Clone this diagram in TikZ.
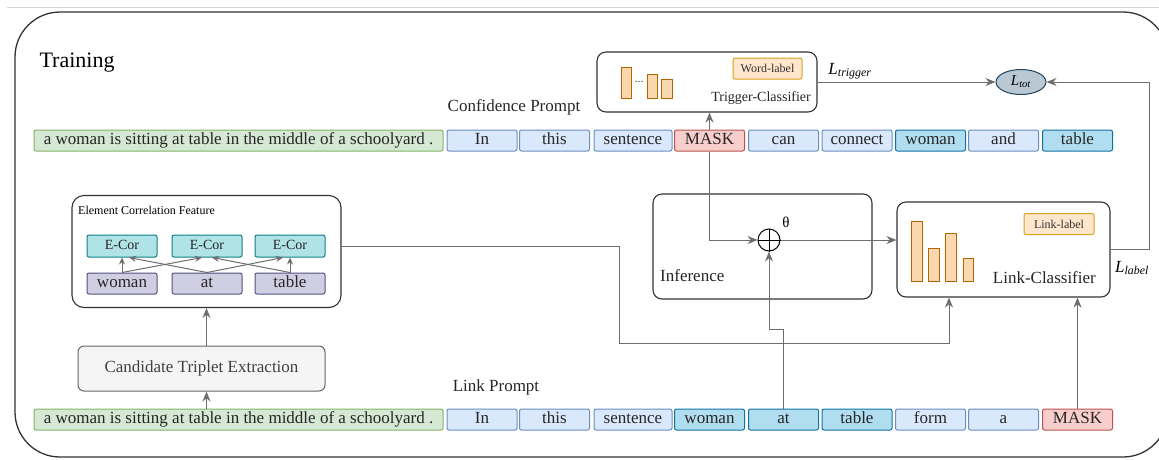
\documentclass[tikz,border=0pt]{standalone}
\usepackage{fontspec}
\setmainfont{Liberation Serif}
\usetikzlibrary{arrows.meta,shapes.geometric}

\definecolor{tokfill}{HTML}{DAE8FC}
\definecolor{tokdraw}{HTML}{6C8EBF}
\definecolor{hlfill}{HTML}{B1DDF0}
\definecolor{hldraw}{HTML}{10739E}
\definecolor{maskfill}{HTML}{F8CECC}
\definecolor{maskdraw}{HTML}{B85450}
\definecolor{sentfill}{HTML}{D5E8D4}
\definecolor{sentdraw}{HTML}{82B366}
\definecolor{ecorfill}{HTML}{B0E3E6}
\definecolor{ecordraw}{HTML}{0E8088}
\definecolor{wordfill}{HTML}{D0CEE2}
\definecolor{worddraw}{HTML}{56517E}
\definecolor{barfill}{HTML}{FAD7AC}
\definecolor{bardraw}{HTML}{B46504}
\definecolor{lblfill}{HTML}{FFE6CC}
\definecolor{lbldraw}{HTML}{D9A21B}
\definecolor{lossfill}{HTML}{BAC8D3}
\definecolor{lossdraw}{HTML}{23445D}
\definecolor{candfill}{HTML}{F5F5F5}
\definecolor{linegray}{HTML}{6E6E6E}

\tikzset{
  base/.style={draw, line width=1pt, rounded corners=2pt, inner sep=1pt,
    text height=11pt, text depth=3.5pt, text=black!85,
    font=\fontsize{17}{20}\selectfont},
  tok/.style={base, fill=tokfill, draw=tokdraw, minimum width=70pt, minimum height=21pt},
  tokw/.style={tok, minimum width=78pt},
  tokhl/.style={tok, fill=hlfill, draw=hldraw},
  tokmask/.style={tok, fill=maskfill, draw=maskdraw},
  sent/.style={base, fill=sentfill, draw=sentdraw, minimum width=409pt, minimum height=21pt},
  ecor/.style={base, fill=ecorfill, draw=ecordraw, minimum width=70pt, minimum height=22pt,
    font=\fontsize{14}{16}\selectfont},
  elem/.style={base, fill=wordfill, draw=worddraw, minimum width=70pt, minimum height=21pt},
  panel/.style={draw=black!80, line width=1.1pt, rounded corners=9pt, fill=white},
  lbl/.style={draw=lbldraw, fill=lblfill, line width=1pt, rounded corners=2pt,
    minimum height=21pt, inner sep=1pt, font=\fontsize{12}{14}\selectfont, text=black!80},
  bar/.style={draw=bardraw, fill=barfill, line width=1pt},
  plain/.style={font=\fontsize{17}{20}\selectfont, text=black!85, inner sep=1pt},
  arr/.style={draw=linegray, line width=1pt, -{Stealth[length=10pt,width=8pt]}},
  arrs/.style={arr, -{Stealth[length=7pt,width=6pt]}},
}

\begin{document}
\begin{tikzpicture}[x=1pt,y=-1pt]
  \useasboundingbox (0,0) rectangle (1159,459);
  \draw[black!15, line width=0.8pt] (7,7) -- (1159,7);
  % outer frame
  \draw[black!80, line width=1.3pt, rounded corners=45pt] (15,12) rectangle (1168,457);
  \node[anchor=west, font=\fontsize{22}{26}\selectfont] (title) at (36,63) {Training};

  % confidence prompt row
  \node[plain] (cplabel) at (514,107) {Confidence Prompt};
  \node[sent] (s1) at (238.5,140.5) {a woman is sitting at table in the middle of a schoolyard .};
  \foreach \w/\x/\s [count=\i] in {In/482/tok, this/554.5/tok, sentence/633/tokw,
      MASK/709.5/tokmask, can/783.5/tok, connect/857/tok, woman/930.5/tokhl,
      and/1003.5/tok, table/1077.5/tokhl}
    \node[\s] (c\i) at (\x,140.5) {\w};

  % link prompt row
  \node[plain] (lplabel) at (496,387) {Link Prompt};
  \node[sent] (s2) at (238.5,419.5) {a woman is sitting at table in the middle of a schoolyard .};
  \foreach \w/\x/\s [count=\i] in {In/482/tok, this/554.5/tok, sentence/633/tokw,
      woman/709.5/tokhl, at/783.5/tokhl, table/857/tokhl, form/930.5/tok,
      a/1003.5/tok, MASK/1077.5/tokmask}
    \node[\s] (l\i) at (\x,419.5) {\w};

  % trigger classifier
  \node[panel, minimum width=220pt, minimum height=60pt] (trig) at (707,82) {};
  \draw[bar] (621,67) rectangle (631,98);
  \draw[bar] (647,74) rectangle (657,98);
  \draw[bar] (661,79) rectangle (672,98);
  \node[font=\fontsize{12}{12}\selectfont, text=black!70, inner sep=0pt] (dots) at (639,82) {...};
  \node[lbl, minimum width=69pt] (wordlbl) at (767.5,68.5) {Word-label};
  \node[anchor=east, font=\fontsize{14}{16}\selectfont, text=black!85, inner sep=1pt] (trigtxt) at (812,98) {Trigger-Classifier};

  % total loss
  \node[ellipse, draw=lossdraw, fill=lossfill, line width=1pt, minimum width=50pt,
    minimum height=25pt, inner sep=0pt, font=\fontsize{15}{17}\selectfont] (ltot) at (1021,82)
    {\textit{L}\textsubscript{\textit{tot}}};
  \node[font=\fontsize{17}{20}\selectfont] (ltrig) at (850,71) {\textit{L}\textsubscript{\textit{trigger}}};

  % inference
  \node[panel, minimum width=219pt, minimum height=105pt] (infer) at (762.5,246.5) {};
  \node[plain, anchor=west] (infertxt) at (659,276) {Inference};
  \node[circle, draw=black, line width=1pt, minimum size=22pt, inner sep=0pt] (oplus) at (769,240) {};
  \draw[black, line width=1pt] (oplus.north) -- (oplus.south) (oplus.west) -- (oplus.east);
  \node[font=\fontsize{15}{17}\selectfont] (theta) at (786,222) {θ};

  % link classifier
  \node[panel, minimum width=213pt, minimum height=95pt] (link) at (1003.5,249.5) {};
  \draw[bar] (911,221) rectangle (922,281);
  \draw[bar] (928,248) rectangle (939,281);
  \draw[bar] (945,233) rectangle (956,281);
  \draw[bar] (963,258) rectangle (973,281);
  \node[lbl, minimum width=70pt] (linklbl) at (1059,224) {Link-label};
  \node[plain, anchor=east] (linktxt) at (1097,278) {Link-Classifier};
  \node[font=\fontsize{17}{20}\selectfont] (llabel) at (1132,268) {\textit{L}\textsubscript{\textit{label}}};

  % element correlation feature
  \node[panel, minimum width=269pt, minimum height=112pt, rounded corners=12pt] (ecf) at (206.5,251.5) {};
  \node[anchor=west, font=\fontsize{12}{14}\selectfont, inner sep=1pt] (ecftitle) at (77,210) {Element Correlation Feature};
  \foreach \w/\x [count=\i] in {woman/122, at/207, table/290} {
    \node[ecor] (e\i) at (\x,246) {E-Cor};
    \node[elem] (p\i) at (\x,283.5) {\w};
  }
  \draw[arrs] (p1.north) -- (e1.south);
  \draw[arrs] (p1.north) -- ([xshift=-5pt]e2.south);
  \draw[arrs] (p2.north) -- ([xshift=7pt]e1.south);
  \draw[arrs] (p2.north) -- ([xshift=-7pt]e3.south);
  \draw[arrs] (p3.north) -- ([xshift=5pt]e2.south);
  \draw[arrs] (p3.north) -- (e3.south);

  \node[base, fill=candfill, draw=black!60, rounded corners=6pt, minimum width=247pt,
    minimum height=45pt, text=black!75] (cte) at (201.5,368.5) {Candidate Triplet Extraction};

  % connections
  \draw[arr] (s2.north -| ecf.south) -- (cte.south -| ecf.south);
  \draw[arr] (cte.north -| ecf.south) -- (ecf.south);
  \draw[arr] (c4.north) -- (c4.north |- trig.south);
  \draw[arr] (c4.south) |- (oplus.west);
  \draw[arr] (oplus.east) -- (oplus.east -| link.west);
  \coordinate (bend1) at (619,343);
  \draw[arr] (ecf.east |- e1) -| (bend1) -| ([xshift=-54.5pt]link.south);
  \coordinate (bend2) at (769,329);
  \draw[arr] (l5.north) |- (bend2) -- (oplus.south);
  \draw[arr] (l9.north) -- (l9.north |- link.south);
  \draw[arr] (trig.east) -- (ltot.west);
  \draw[arr] (link.east) -- ++(39,0) |- (ltot.east);
\end{tikzpicture}
\end{document}
